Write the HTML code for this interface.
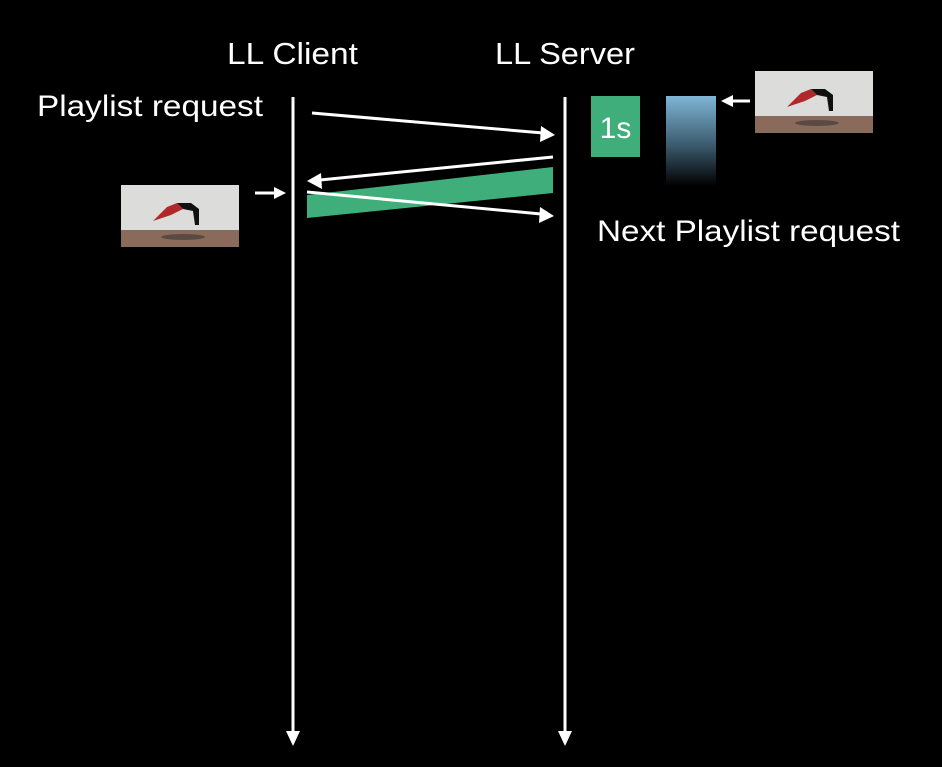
<!DOCTYPE html>
<html><head><meta charset="utf-8"><style>
html,body{margin:0;padding:0;background:#000;}
svg{display:block}
text{font-family:"Liberation Sans",sans-serif;fill:#fff}
</style></head><body>
<svg width="942" height="767" viewBox="0 0 942 767" xmlns="http://www.w3.org/2000/svg">
<defs>
<linearGradient id="bg" x1="0" y1="0" x2="0" y2="1">
<stop offset="0" stop-color="#7fb6d6"/><stop offset="0.55" stop-color="#3b5a6c"/><stop offset="1" stop-color="#000"/>
</linearGradient>
<g id="photo">
<rect x="0" y="0" width="118" height="62" fill="#dcdcda"/>
<rect x="0" y="45" width="118" height="17" fill="#8a6a5a"/>
<ellipse cx="62" cy="52" rx="22" ry="3" fill="#5a4a44"/>
<path d="M32 36 L46 22 L56 18 L62 24 L50 30 Z" fill="#b0282a"/>
<path d="M56 18 L70 18 L78 24 L78 40 L74 40 L72 26 L62 24 Z" fill="#111"/>
</g>
</defs>
<text x="227" y="64" font-size="31" textLength="131" lengthAdjust="spacingAndGlyphs">LL Client</text>
<text x="495" y="64" font-size="31" textLength="140" lengthAdjust="spacingAndGlyphs">LL Server</text>
<text x="37" y="116" font-size="30" textLength="226" lengthAdjust="spacingAndGlyphs">Playlist request</text>
<text x="597" y="241" font-size="30" textLength="303" lengthAdjust="spacingAndGlyphs">Next Playlist request</text>
<line x1="293" y1="97" x2="293" y2="733" stroke="#fff" stroke-width="3"/>
<polygon points="286,731 300,731 293,746" fill="#fff"/>
<line x1="565" y1="97" x2="565" y2="733" stroke="#fff" stroke-width="3"/>
<polygon points="558,731 572,731 565,746" fill="#fff"/>
<polygon points="307,195 553,167 553,193 307,218" fill="#3fae7a"/>
<line x1="312" y1="113" x2="543" y2="133" stroke="#fff" stroke-width="3"/>
<polygon points="555,135 541,126 540,142" fill="#fff"/>
<line x1="553" y1="157" x2="320" y2="180" stroke="#fff" stroke-width="3"/>
<polygon points="307,181 321,173 322,189" fill="#fff"/>
<line x1="307" y1="192" x2="541" y2="214" stroke="#fff" stroke-width="3"/>
<polygon points="554,216 540,207 539,223" fill="#fff"/>
<rect x="591" y="96" width="49" height="61" fill="#3fae7a"/>
<text x="615.5" y="138" font-size="30" text-anchor="middle">1s</text>
<rect x="666" y="96" width="50" height="90" fill="url(#bg)"/>
<use href="#photo" x="755" y="71"/>
<line x1="750" y1="101" x2="732" y2="101" stroke="#fff" stroke-width="3"/>
<polygon points="721,101 733,95 733,107" fill="#fff"/>
<use href="#photo" x="121" y="185"/>
<line x1="255" y1="193" x2="274" y2="193" stroke="#fff" stroke-width="3"/>
<polygon points="286,193 274,187 274,199" fill="#fff"/>
</svg>
</body></html>
